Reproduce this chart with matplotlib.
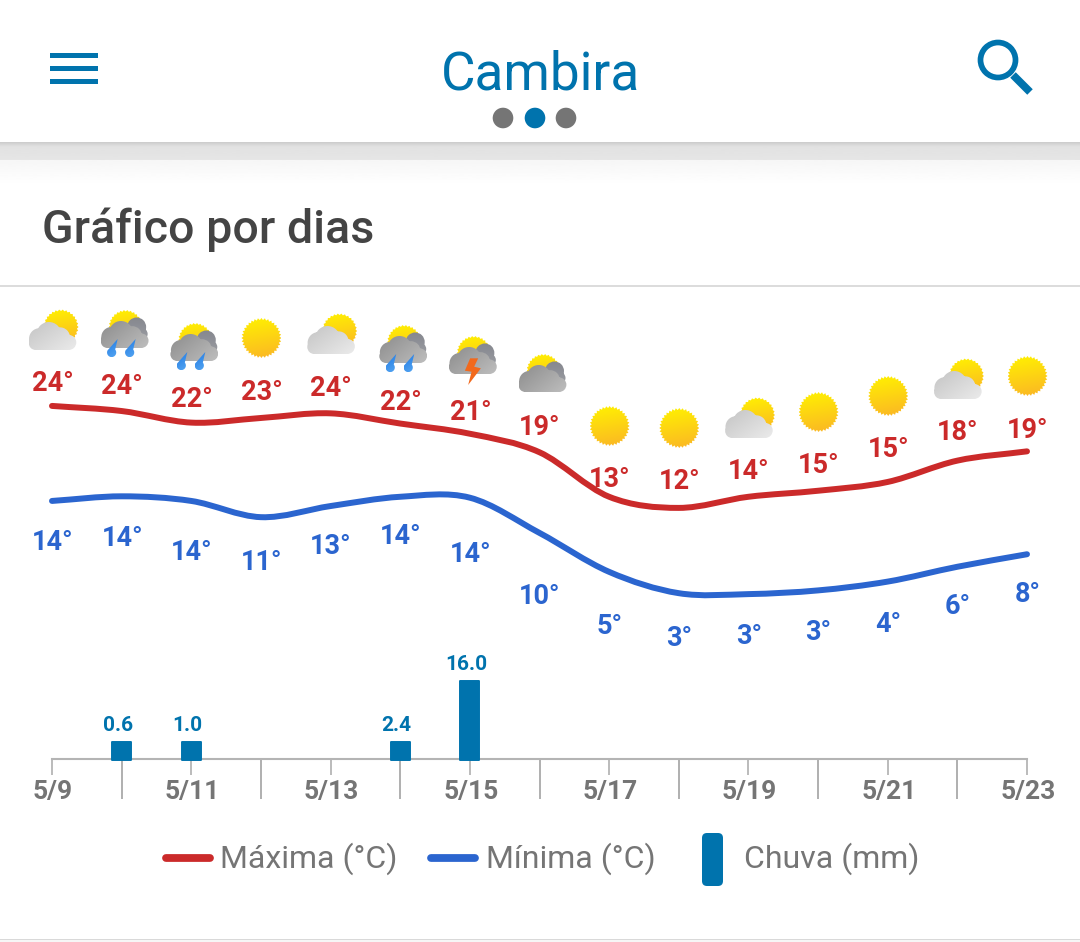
import numpy as np
import matplotlib
matplotlib.use("Agg")
import matplotlib.pyplot as plt
from matplotlib.path import Path
from matplotlib.patches import PathPatch, Circle, FancyBboxPatch, Rectangle, Polygon
from matplotlib.transforms import Affine2D, ScaledTranslation

plt.rcParams['font.family'] = ['Roboto', 'DejaVu Sans']

# ---------- data ----------
dates = ['5/9', '5/10', '5/11', '5/12', '5/13', '5/14', '5/15', '5/16',
         '5/17', '5/18', '5/19', '5/20', '5/21', '5/22', '5/23']
max_labels = [24, 24, 22, 23, 24, 22, 21, 19, 13, 12, 14, 15, 15, 18, 19]
min_labels = [14, 14, 14, 11, 13, 14, 14, 10, 5, 3, 3, 3, 4, 6, 8]
max_curve = [23.9, 23.35, 22.1, 22.6, 23.1, 22.0, 20.9, 18.9, 14.1, 12.9, 14.1, 14.75, 15.7, 18.0, 19.0]
min_curve = [13.65, 14.15, 13.65, 11.9, 13.1, 14.1, 14.0, 10.2, 6.0, 3.7, 3.6, 4.0, 4.95, 6.55, 7.9]
rain = [0, 0.6, 1.0, 0, 0, 2.4, 16.0, 0, 0, 0, 0, 0, 0, 0, 0]
icons = ['partly', 'rain', 'rain', 'sun', 'partly', 'rain', 'storm', 'overcast',
         'sun', 'sun', 'partly', 'sun', 'sun', 'partly', 'sun']

# ---------- layout (pixels) ----------
W, H = 1080, 942
X0, X1 = 52.0, 1027.0
max_label_y = [381, 384, 397, 389, 385, 399, 410, 425, 477, 479, 469, 463, 447, 430, 427]
min_label_y = [540, 536, 549, 560, 544, 534, 552, 593, 624, 635, 633, 630, 621, 604, 592]
RED, BLUE, NAVY, GREY = '#CB2A2A', '#2B65CF', '#0073AD', '#757575'
RAIN_FLOOR = 3.5

fig = plt.figure(figsize=(W / 100, H / 100), dpi=100, facecolor='white')


def axes_px(left, top, right, bottom, **kw):
    return fig.add_axes([left / W, 1 - bottom / H, (right - left) / W, (bottom - top) / H], **kw)


# ---------- page chrome, pixel coordinates ----------
bg = fig.add_axes([0, 0, 1, 1])
bg.set_xlim(0, W)
bg.set_ylim(H, 0)
bg.axis('off')


def grad(path, c1, c2, angle=90, z=3):
    """Fill a path with a linear gradient."""
    ext = path.get_extents()
    n = 64
    u, v = np.meshgrid(np.linspace(0, 1, n), np.linspace(0, 1, n))
    a = np.deg2rad(angle)
    t = u * np.cos(a) + v * np.sin(a)
    t = (t - t.min()) / (t.max() - t.min())
    c1 = np.array(matplotlib.colors.to_rgb(c1))
    c2 = np.array(matplotlib.colors.to_rgb(c2))
    img = c1[None, None, :] * (1 - t[..., None]) + c2[None, None, :] * t[..., None]
    im = bg.imshow(img, extent=(ext.x0, ext.x1, ext.y1, ext.y0), aspect='auto', zorder=z,
                   interpolation='bilinear')
    clip = PathPatch(path, transform=bg.transData, fc='none', ec='none')
    bg.add_patch(clip)
    im.set_clip_path(clip)


def sun_path(cx, cy, ro=20.0, ri=18.0, n=36):
    ang = np.linspace(0, 2 * np.pi, 2 * n, endpoint=False)
    r = np.where(np.arange(2 * n) % 2 == 0, ro, ri)
    pts = np.c_[cx + r * np.cos(ang), cy + r * np.sin(ang)]
    return Path(np.vstack([pts, pts[0]]), closed=True)


def cloud_path(left, base, w, h):
    """Union of circles and a rounded base; box (left, base-h, w, h)."""
    paths = []
    lobes = [(0.13, 0.25, 0.25), (0.22, 0.40, 0.38), (0.43, 0.56, 0.44), (0.68, 0.45, 0.36), (0.88, 0.27, 0.27)]
    for fx, fy, fr in lobes:
        paths.append(Path.circle((left + fx * w, base - fy * h), fr * h))
    paths.append(Path.unit_rectangle().transformed(
        Affine2D().scale(w * 0.76, h * 0.50).translate(left + 0.12 * w, base - 0.50 * h)))
    return Path.make_compound_path(*paths)


def sun_icon(cx, cy):
    grad(sun_path(cx, cy), '#FFF200', '#FBB526', angle=80)


def partly_icon(cx, cy):
    grad(sun_path(cx + 8, cy - 3, 17.5, 16, 30), '#FFF200', '#FBB526', angle=80, z=3)
    grad(cloud_path(cx - 23, cy + 20, 44, 28), '#C4C4C4', '#EBEBEB', angle=40, z=4)


def dark_icon(cx, cy, dy=0):
    cy = cy + dy
    grad(sun_path(cx + 3, cy - 6, 17, 15.5, 30), '#FFF200', '#FBB526', angle=80, z=3)
    back = Path.make_compound_path(Path.circle((cx + 14, cy - 6), 9.5), Path.circle((cx + 19, cy + 1), 6))
    grad(back, '#85878E', '#9A9CA2', angle=90, z=4)
    grad(cloud_path(cx - 21, cy + 15, 45, 27), '#8C8C8C', '#BEBEBE', angle=35, z=5)


def rain_drops(cx, cy):
    for dx in (0, 18):
        t = np.linspace(-0.22 * np.pi, 1.15 * np.pi, 20)
        blob = np.c_[cx - 11 + dx + 4.6 * np.cos(t), cy + 19.5 + 4.6 * np.sin(t)]
        tip = (cx - 5 + dx, cy + 6)
        pts = np.vstack([tip, blob])
        grad(Path(np.vstack([pts, pts[0]]), closed=True), '#1F78E2', '#55A6F2', angle=70, z=6)


BOLT = [(-0.7, -0.7), (7.3, -0.7), (3.3, 7.7), (10, 9.3), (-2.7, 26), (0.7, 12.7), (-6, 11.7)]

for i, kind in enumerate(icons):
    cx = X0 + i * (X1 - X0) / 14 + 1
    cy = max_label_y[i] - 51
    if kind == 'sun':
        sun_icon(cx - 0.5, cy)
    elif kind == 'partly':
        partly_icon(cx, cy)
    elif kind == 'rain':
        dark_icon(cx, cy)
        rain_drops(cx, cy)
    elif kind == 'storm':
        dark_icon(cx, cy)
        bg.add_patch(Polygon([(cx + a, cy + b) for a, b in BOLT], fc='#F2691C', ec='none', zorder=6))
    elif kind == 'overcast':
        dark_icon(cx, cy, dy=3)

bg.set_xlim(0, W)
bg.set_ylim(H, 0)

# header
n = 40
band = np.linspace(0, 1, n)[:, None]
bg.imshow(np.interp(band, [0, 0.25, 1], [0.80, 0.885, 0.90]), extent=(0, W, 160, 142), cmap='gray', vmin=0, vmax=1,
          aspect='auto', zorder=1)
bg.imshow(np.interp(band, [0, 1], [0.965, 1.0]), extent=(0, W, 185, 160), cmap='gray', vmin=0, vmax=1,
          aspect='auto', zorder=1)
bg.set_xlim(0, W)
bg.set_ylim(H, 0)
for yy in (55, 68.5, 81.5):
    bg.add_patch(Rectangle((50, yy - 2.5), 48, 5, fc=NAVY, ec='none', zorder=3))
for xx, c in zip((503, 535, 566), (GREY, NAVY, GREY)):
    bg.add_patch(Circle((xx, 118), 10.3, fc=c, ec='none', zorder=3))
bg.add_patch(Circle((998, 60), 17.5, fc='none', ec=NAVY, lw=4.1, zorder=3))
bg.plot([1013, 1030], [75, 92], color=NAVY, lw=5.6, solid_capstyle='butt', zorder=3)
bg.text(540.5, 69, 'Cambira', color=NAVY, fontsize=38.2, ha='center', va='center_baseline', zorder=3)
bg.text(42.5, 225, 'Gráfico por dias', color='#444444', fontsize=33.5, fontweight='medium',
        ha='left', va='center_baseline', zorder=3)
bg.plot([0, W], [285.5, 285.5], color='#D6D6D6', lw=1.2, zorder=2)
bg.add_patch(Rectangle((0, 938.5), W, 1.8, fc='#D9D9D9', ec='none', zorder=2))
bg.add_patch(Rectangle((0, 940.3), W, 2, fc='#F6F6F6', ec='none', zorder=2))

# legend
bg.plot([166, 210], [858, 858], color=RED, lw=5.6, solid_capstyle='round', zorder=3)
bg.plot([431, 475], [858, 858], color=BLUE, lw=5.6, solid_capstyle='round', zorder=3)
bg.add_patch(FancyBboxPatch((705, 836), 15, 47, boxstyle='round,pad=3,rounding_size=5', fc=NAVY, ec='none', zorder=3))
bg.text(219.5, 855, 'Máxima (°C)', color=GREY, fontsize=23, ha='left', va='center_baseline', zorder=3)
bg.text(485.5, 855, 'Mínima (°C)', color=GREY, fontsize=23, ha='left', va='center_baseline', zorder=3)
bg.text(744.5, 855, 'Chuva (mm)', color=GREY, fontsize=23, ha='left', va='center_baseline', zorder=3)

# ---------- temperature axes ----------
PX_PER_DEG = 9.27
TOP, BOT = 300, 650
days = np.arange(len(dates))
tx = axes_px(X0, TOP, X1, BOT, facecolor='none')
tx.set_xlim(0, 14)
tx.set_ylim(24 - (BOT - 405) / PX_PER_DEG, 24 + (405 - TOP) / PX_PER_DEG)
tx.axis('off')


def smooth_path(x, y):
    x, y = np.asarray(x, float), np.asarray(y, float)
    dy = np.gradient(y, x)
    verts, codes = [(x[0], y[0])], [Path.MOVETO]
    for i in range(len(x) - 1):
        h = (x[i + 1] - x[i]) / 3
        verts += [(x[i] + h, y[i] + dy[i] * h), (x[i + 1] - h, y[i + 1] - dy[i + 1] * h), (x[i + 1], y[i + 1])]
        codes += [Path.CURVE4] * 3
    return Path(verts, codes)


for vals, col, lab in ((max_curve, RED, 'Máxima (°C)'), (min_curve, BLUE, 'Mínima (°C)')):
    tx.add_patch(PathPatch(smooth_path(days, vals), fc='none', ec=col, lw=4.3, capstyle='round',
                           joinstyle='round', label=lab, clip_on=False))


def y_to_temp(py):
    return 24 - (py - 405) / PX_PER_DEG


for d, v, py in zip(days, max_labels, max_label_y):
    tx.text(d + 0.5 / 70, y_to_temp(py), f'{v}°', color=RED, fontsize=19.5, fontweight='bold',
            ha='center', va='center_baseline', clip_on=False)
for d, v, py in zip(days, min_labels, min_label_y):
    tx.text(d + 0.5 / 70, y_to_temp(py), f'{v}°', color=BLUE, fontsize=19.5, fontweight='bold',
            ha='center', va='center_baseline', clip_on=False)

# ---------- rain axes ----------
PX_PER_MM = 4.875
rx = axes_px(X0, 660, X1, 759, facecolor='none')
rx.set_xlim(0, 14)
rx.set_ylim(0, 99 / PX_PER_MM)
for s in ('top', 'left', 'right'):
    rx.spines[s].set_visible(False)
rx.spines['bottom'].set_color('#B4B4B4')
rx.spines['bottom'].set_linewidth(1.5)
rx.yaxis.set_visible(False)
rain_arr = np.array(rain)
wet = rain_arr > 0
shown = np.maximum(rain_arr[wet], RAIN_FLOOR)
bars = rx.bar(days[wet], shown + 0.3, bottom=-0.3, width=0.27, color=NAVY, edgecolor=NAVY, linewidth=1.4,
              joinstyle='round', zorder=5, clip_on=False, label='Chuva (mm)')
for d, h, v in zip(days[wet], shown, rain_arr[wet]):
    rx.annotate(f'{v:.1f}', (d, h), xytext=(-2.8, 13.4), textcoords='offset points', color=NAVY, fontsize=15,
                fontweight='bold', ha='center', va='center_baseline', annotation_clip=False)

rx.set_xticks(days[::2])
rx.set_xticklabels(dates[::2])
rx.set_xticks(days[1::2], minor=True)
rx.tick_params(axis='x', which='major', length=11.5, width=1.1, color='#A8A8A8', pad=3.5,
               labelsize=19, labelcolor=GREY)
rx.tick_params(axis='x', which='minor', length=28.5, width=1.1, color='#9A9A9A')
shift = ScaledTranslation(0.8 / 72, 0, fig.dpi_scale_trans)
for t in rx.get_xticklabels():
    t.set_fontweight('bold')
    t.set_transform(t.get_transform() + shift)

fig.savefig('out.png', dpi=100, facecolor='white')
